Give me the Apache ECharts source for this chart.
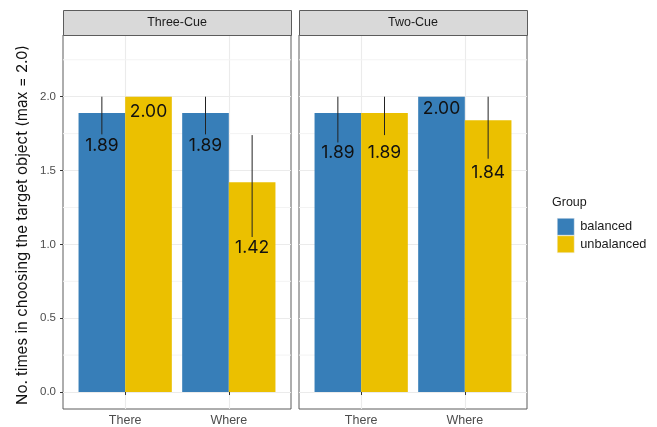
<!DOCTYPE html>
<html>
<head>
<meta charset="utf-8">
<script src="https://cdn.jsdelivr.net/npm/echarts@6/dist/echarts.min.js"></script>
<style>
  html, body { margin: 0; padding: 0; background: #fff; }
  #chart { width: 657px; height: 427px; }
</style>
</head>
<body>
<div id="chart"></div>
<script>
// Facets, categories and groups
const cues = ['Three-Cue', 'Two-Cue'];
const places = ['There', 'Where'];
const groups = ['balanced', 'unbalanced'];

// Mean choices per place (There, Where)
const threeCueBalanced = [1.89, 1.89];
const threeCueUnbalanced = [2.00, 1.42];
const twoCueBalanced = [1.89, 2.00];
const twoCueUnbalanced = [1.89, 1.84];

// Error ranges per place: [lower, upper]
const threeCueBalancedErr = [[1.745, 2.00], [1.745, 2.00]];
const threeCueUnbalancedErr = [[2.00, 2.00], [1.05, 1.74]];
const twoCueBalancedErr = [[1.69, 2.00], [2.00, 2.00]];
const twoCueUnbalancedErr = [[1.74, 2.00], [1.58, 2.00]];

// Value at which each bar's text label sits
const threeCueBalancedLabelAt = [1.665, 1.665];
const threeCueUnbalancedLabelAt = [1.9, 0.98];
const twoCueBalancedLabelAt = [1.618, 1.92];
const twoCueUnbalancedLabelAt = [1.618, 1.488];

// Axis ticks
const yTicks = [0, 0.5, 1.0, 1.5, 2.0];
const yMinor = [0.25, 0.75, 1.25, 1.75, 2.25];

const colors = { balanced: '#377EB8', unbalanced: '#EBC000' };
const DODGE = 0.225;   // half of a dodged bar's width in x units
const HALF = 0.225;

const panels = [
  { balanced: threeCueBalanced, unbalanced: threeCueUnbalanced,
    balancedErr: threeCueBalancedErr, unbalancedErr: threeCueUnbalancedErr,
    balancedLab: threeCueBalancedLabelAt, unbalancedLab: threeCueUnbalancedLabelAt },
  { balanced: twoCueBalanced, unbalanced: twoCueUnbalanced,
    balancedErr: twoCueBalancedErr, unbalancedErr: twoCueUnbalancedErr,
    balancedLab: twoCueBalancedLabelAt, unbalancedLab: twoCueUnbalancedLabelAt }
];

const gridBox = [
  { left: 63, top: 35, width: 228, height: 374 },
  { left: 299, top: 35, width: 228, height: 374 }
];

const borderColor = '#5c5c5c';
const gridColor = '#ebebeb';

const grids = gridBox.map(g => ({
  left: g.left, top: g.top, width: g.width, height: g.height,
  show: true, borderColor: borderColor, borderWidth: 1, backgroundColor: '#fff'
}));

const xAxes = gridBox.map((g, i) => ({
  type: 'value', gridIndex: i, min: 0.4, max: 2.6,
  axisLine: { show: false },
  axisTick: { show: true, length: 3, customValues: [1, 2], lineStyle: { color: '#333', width: 1 } },
  axisLabel: {
    customValues: [1, 2], margin: 5,
    formatter: v => places[Math.round(v) - 1] || '',
    color: '#4d4d4d', fontSize: 12.5, fontFamily: 'Liberation Sans, Arial, sans-serif'
  },
  splitLine: { show: true, lineStyle: { color: gridColor, width: 1.1 } }
}));

const yAxes = gridBox.map((g, i) => ({
  type: 'value', gridIndex: i, min: -0.115, max: 2.418,
  axisLine: { show: false },
  axisTick: { show: i === 0, length: 3, customValues: yTicks, lineStyle: { color: '#333', width: 1 } },
  axisLabel: {
    show: i === 0, customValues: yTicks, margin: 7,
    formatter: v => v.toFixed(1),
    color: '#4d4d4d', fontSize: 11.5, fontFamily: 'Liberation Sans, Arial, sans-serif'
  },
  splitLine: { show: true, lineStyle: { color: gridColor, width: 1.1 } }
}));

function barRenderer(offset) {
  return function (params, api) {
    const x = api.value(0), m = api.value(1), lo = api.value(2), hi = api.value(3), lab = api.value(4);
    const cx = x + offset;
    const tl = api.coord([cx - HALF, m]);
    const br = api.coord([cx + HALF, 0]);
    const children = [{
      type: 'rect',
      shape: { x: tl[0], y: tl[1], width: br[0] - tl[0], height: br[1] - tl[1] },
      style: api.style({ fill: api.visual('color'), stroke: null })
    }];
    if (hi > lo) {
      const a = api.coord([cx, hi]), b = api.coord([cx, lo]);
      children.push({
        type: 'line',
        shape: { x1: a[0], y1: a[1], x2: b[0], y2: b[1] },
        style: { stroke: '#222', lineWidth: 1 }
      });
    }
    const t = api.coord([cx, lab]);
    children.push({
      type: 'text', x: t[0], y: t[1],
      style: {
        text: m.toFixed(2), fill: '#111', fontSize: 17.5,
        fontFamily: 'Inter, Roboto, sans-serif',
        align: 'center', verticalAlign: 'middle'
      }
    });
    return { type: 'group', children: children };
  };
}

function minorRenderer(params, api) {
  const v = api.value(0);
  const a = api.coord([0.4, v]), b = api.coord([2.6, v]);
  return {
    type: 'line',
    shape: { x1: a[0], y1: a[1], x2: b[0], y2: b[1] },
    style: { stroke: '#f3f3f3', lineWidth: 1 }
  };
}

const series = [];
panels.forEach((p, i) => {
  series.push({
    type: 'custom', name: 'minor' + i, xAxisIndex: i, yAxisIndex: i, z: 1, silent: true,
    renderItem: minorRenderer, data: yMinor.map(v => [v]), encode: { y: 0 }
  });
  groups.forEach((gName, gi) => {
    const means = p[gName], errs = p[gName + 'Err'], labs = p[gName + 'Lab'];
    series.push({
      type: 'custom', name: gName, xAxisIndex: i, yAxisIndex: i, z: 3,
      itemStyle: { color: colors[gName] },
      renderItem: barRenderer(gi === 0 ? -DODGE : DODGE),
      encode: { x: 0, y: 1 },
      data: means.map((m, k) => [k + 1, m, errs[k][0], errs[k][1], labs[k]])
    });
  });
});

const graphics = [];
cues.forEach((c, i) => {
  const g = gridBox[i];
  graphics.push({
    type: 'rect', left: g.left, top: 10, z: 10,
    shape: { width: g.width, height: 25 },
    style: { fill: '#d9d9d9', stroke: borderColor, lineWidth: 1 }
  });
  graphics.push({
    type: 'text', x: g.left + g.width / 2, y: 23, z: 11,
    style: {
      text: c, fill: '#1a1a1a', fontSize: 12.5,
      fontFamily: 'Liberation Sans, Arial, sans-serif',
      align: 'center', verticalAlign: 'middle'
    }
  });
});
graphics.push({
  type: 'text', x: 22, y: 225, rotation: Math.PI / 2, z: 11,
  style: {
    text: 'No. times in choosing the target object (max = 2.0)',
    fill: '#111', fontSize: 15, fontFamily: 'Inter, Roboto, sans-serif',
    align: 'center', verticalAlign: 'middle'
  }
});
graphics.push({
  type: 'text', x: 552, y: 203, z: 11,
  style: {
    text: 'Group', fill: '#1a1a1a', fontSize: 12.5,
    fontFamily: 'Liberation Sans, Arial, sans-serif',
    align: 'left', verticalAlign: 'middle'
  }
});

const chart = echarts.init(document.getElementById('chart'), null, { renderer: 'canvas' });
chart.setOption({
  animation: false,
  backgroundColor: '#fff',
  grid: grids,
  xAxis: xAxes,
  yAxis: yAxes,
  legend: {
    data: groups.map(g => ({ name: g, icon: 'rect' })),
    orient: 'vertical', left: 552, top: 213,
    itemWidth: 17, itemHeight: 17, itemGap: 0,
    itemStyle: { borderColor: '#f0f0f0', borderWidth: 0.5 },
    selectedMode: false,
    textStyle: { color: '#1a1a1a', fontSize: 12.8, fontFamily: 'Liberation Sans, Arial, sans-serif', padding: [0, 0, 0, 1] }
  },
  graphic: graphics,
  series: series
});
</script>
</body>
</html>
